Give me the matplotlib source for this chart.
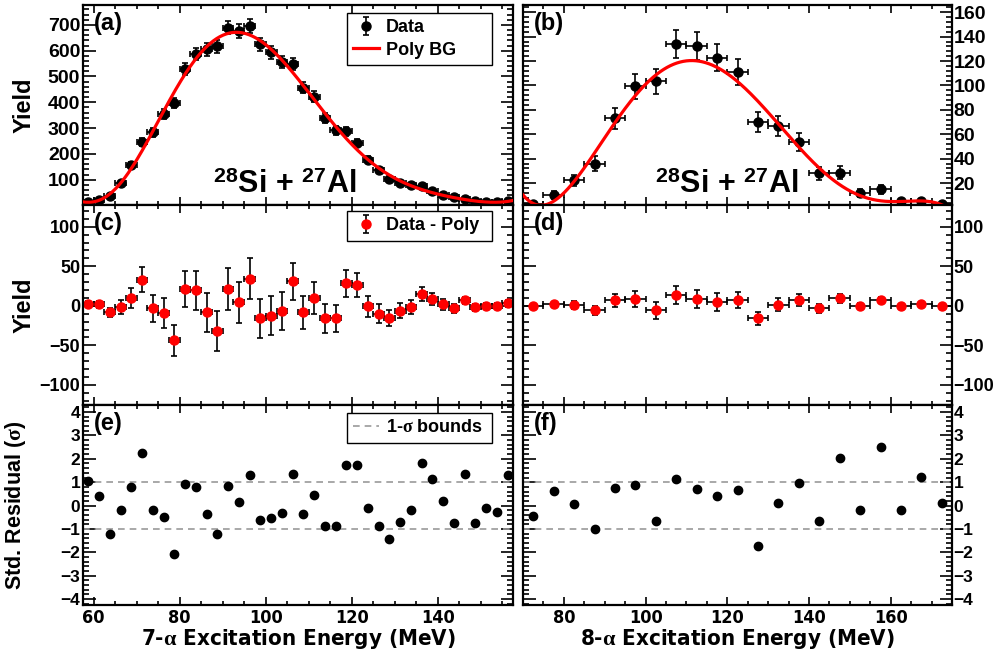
import numpy as np
import matplotlib
matplotlib.use('Agg')
import matplotlib.pyplot as plt
from matplotlib.ticker import MultipleLocator
from matplotlib.font_manager import FontProperties, fontManager
from numpy.polynomial import Polynomial

plt.rcParams['font.family'] = ['Liberation Sans', 'DejaVu Sans']
plt.rcParams['font.weight'] = 'bold'
plt.rcParams['mathtext.fontset'] = 'custom'
plt.rcParams['mathtext.rm'] = 'Liberation Serif'
plt.rcParams['mathtext.it'] = 'Liberation Serif:italic'
plt.rcParams['mathtext.bf'] = 'Liberation Sans:bold'

# a narrow bold face for the energy axes, if one is installed
narrow_files = sorted(f.fname for f in fontManager.ttflist
                      if f.weight in (700, 'bold')
                      and ('Narrow' in f.name or f.stretch == 'condensed'))
if narrow_files:
    NARROW = dict(fname=narrow_files[0])
    XLAB_SIZE, XTICK_SIZE = 16, 13
else:
    NARROW = dict(family='Liberation Sans', weight='bold')
    XLAB_SIZE, XTICK_SIZE = 15, 12.5

# 7-alpha channel (2.5 MeV bins)
e7 = [58.75, 61.25, 63.75, 66.25, 68.75, 71.25, 73.75, 76.25, 78.75, 81.25,
      83.75, 86.25, 88.75, 91.25, 93.75, 96.25, 98.75, 101.25, 103.75, 106.25,
      108.75, 111.25, 113.75, 116.25, 118.75, 121.25, 123.75, 126.25, 128.75, 131.25,
      133.75, 136.25, 138.75, 141.25, 143.75, 146.25, 148.75, 151.25, 153.75, 156.25]
yield7 = [15, 22, 36, 86, 156, 245, 284, 355, 397, 530,
          588, 605, 617, 689, 676, 695, 624, 593, 556, 549,
          456, 422, 340, 291, 288, 242, 177, 136, 101, 88,
          80, 75, 56, 41, 32, 25, 17, 13, 13, 19]
err7 = [3.9, 4.7, 6.0, 9.3, 12.5, 15.7, 16.9, 18.8, 19.9, 23.0,
        24.2, 24.6, 24.8, 26.2, 26.0, 26.4, 25.0, 24.4, 23.6, 23.4,
        21.4, 20.5, 18.4, 17.1, 17.0, 15.6, 13.3, 11.7, 10.0, 9.4,
        8.9, 8.7, 7.5, 6.4, 5.7, 5.0, 4.1, 3.6, 3.6, 4.4]
resid7 = [2.5, 1.7, -8.4, -1.7, 10, 32.8, -3.4, -9.3, -43.8, 21,
          19.4, -8.4, -32, 21, 4.2, 34.5, -16, -12.6, -6.7, 31.2,
          -8.4, 10, -15.6, -15.6, 28.6, 26.5, -0.8, -10, -15.6, -6.3,
          -1.3, 14.7, 8.4, 1.7, -3.4, 6.7, -2.1, 0, 0, 3.4]
stdres7 = [1.07, 0.39, -1.23, -0.21, 0.79, 2.23, -0.21, -0.49, -2.07, 0.92,
           0.79, -0.34, -1.23, 0.82, 0.16, 1.30, -0.63, -0.51, -0.30, 1.36,
           -0.37, 0.46, -0.86, -0.87, 1.73, 1.73, -0.10, -0.87, -1.44, -0.70,
           -0.18, 1.80, 1.12, 0.21, -0.76, 1.33, -0.73, -0.11, -0.28, 1.29]

# 8-alpha channel (5 MeV bins)
e8 = [72.5, 77.5, 82.5, 87.5, 92.5, 97.5, 102.5, 107.5, 112.5, 117.5, 122.5,
      127.5, 132.5, 137.5, 142.5, 147.5, 152.5, 157.5, 162.5, 167.5, 172.5]
yield8 = [2.5, 10.2, 22.2, 35.8, 73, 99.3, 103.4, 134.2, 132.3, 122.7, 111.2,
          70, 66.7, 53.9, 27.9, 28.5, 11.6, 14.8, 5, 5, 3]
err8 = [1.6, 3.2, 4.7, 6.0, 8.5, 10.0, 10.2, 11.6, 11.5, 11.1, 10.5,
        8.4, 8.2, 7.3, 5.3, 5.3, 3.4, 3.8, 2.2, 2.2, 1.7]
resid8 = [0, 2.1, 0.8, -5.9, 6.7, 8.4, -5.9, 13.5, 8.4, 5, 7.2,
          -16, 1.3, 7.2, -3.4, 9.3, 0, 7.6, 0, 2.1, 0]
stdres8 = [-0.44, 0.62, 0.06, -0.99, 0.76, 0.87, -0.64, 1.15, 0.73, 0.40, 0.67,
           -1.73, 0.10, 0.97, -0.64, 2.03, -0.18, 2.49, -0.18, 1.22, 0.09]

reaction = r'$^{\mathbf{28}}$Si + $^{\mathbf{27}}$Al'

W, H = 1006, 653
fig = plt.figure(figsize=(W / 100, H / 100), dpi=100)


def box(x0, y0, x1, y1):
    return [x0 / W, 1 - y1 / H, (x1 - x0) / W, (y1 - y0) / H]


cols = [(83, 513), (523, 952)]
rows = [(5, 205), (205, 405), (405, 605)]
axes = [[fig.add_axes(box(c[0], r[0], c[1], r[1])) for c in cols] for r in rows]

xlims = [(57.5, 157.5), (70, 175)]
halfbin = [1.25, 2.5]
pt = dict(ms=6.5, elinewidth=1.2, capsize=2, capthick=1.2)


def style(ax, right, ymaj, ymin, ysize):
    for s in ax.spines.values():
        s.set_linewidth(1.6)
    ax.xaxis.set_major_locator(MultipleLocator(20))
    ax.xaxis.set_minor_locator(MultipleLocator(5))
    ax.yaxis.set_major_locator(MultipleLocator(ymaj))
    ax.yaxis.set_minor_locator(MultipleLocator(ymin))
    ax.tick_params(which='both', direction='in', top=True, right=True,
                   width=1.2, labelsize=ysize)
    ax.tick_params(axis='y', which='major', length=9)
    ax.tick_params(axis='y', which='minor', length=4.5)
    ax.tick_params(axis='x', which='major', length=6)
    ax.tick_params(axis='x', which='minor', length=3)
    ax.tick_params(axis='x', labelbottom=False)
    if right:
        ax.tick_params(axis='y', labelleft=False, labelright=True, pad=1)
    else:
        ax.tick_params(axis='y', pad=2)


def legend_box(ax, handles, labels, top):
    leg = ax.legend(handles, labels, loc='upper left',
                    bbox_to_anchor=(0.614, top, 0.337, 0.0), mode='expand',
                    borderaxespad=0, fancybox=False, edgecolor='k',
                    framealpha=1, fontsize=13, handlelength=1.4,
                    handletextpad=0.4, labelspacing=0.3, borderpad=0.35)
    leg.get_frame().set_linewidth(1.0)
    return leg


# top row: yields with polynomial background
bg_lines = []
for j, (e, y, err, res) in enumerate([(e7, yield7, err7, resid7),
                                      (e8, yield8, err8, resid8)]):
    ax = axes[0][j]
    ax.errorbar(e, y, xerr=halfbin[j], yerr=err, fmt='o', color='k', zorder=3, **pt)
    target = np.array(y) - np.array(res)
    if j == 0:
        bg = Polynomial.fit(e, target, 8, w=1 / np.array(err))
    else:
        bg = Polynomial.fit(e, target, 6, w=1 / np.sqrt(err))
    xx = np.linspace(xlims[j][0], xlims[j][1], 400)
    line, = ax.plot(xx, np.clip(bg(xx), 0, None), color='red', lw=2.3, zorder=4)
    bg_lines.append(line)
    ax.set_xlim(*xlims[j])
    ax.text(0.47 if j == 0 else 0.475, 0.025, reaction, transform=ax.transAxes,
            ha='center', va='bottom', fontsize=22, fontweight='bold')

axes[0][0].set_ylim(2, 777)
axes[0][1].set_ylim(2, 166)
style(axes[0][0], False, 100, 20, 14)
style(axes[0][1], True, 20, 4, 14)

h_data = axes[0][0].errorbar([np.nan], [np.nan], yerr=[1], fmt='o', color='k', **pt)
legend_box(axes[0][0], [h_data, bg_lines[0]], ['Data', 'Poly BG'], 0.96)

# middle row: data minus background
for j, (e, res, err) in enumerate([(e7, resid7, err7), (e8, resid8, err8)]):
    ax = axes[1][j]
    ax.errorbar(e, res, xerr=halfbin[j], yerr=err, fmt='o', mfc='red', mec='red',
                ecolor='k', **pt)
    ax.set_xlim(*xlims[j])
    ax.set_ylim(-125.5, 127.5)
    style(ax, j == 1, 50, 10, 13)

h_res = axes[1][0].errorbar([np.nan], [np.nan], yerr=[1], fmt='o', mfc='red',
                            mec='red', ecolor='k', **pt)
legend_box(axes[1][0], [h_res], ['Data - Poly'], 0.97)

# bottom row: standardised residuals
for j, (e, sr) in enumerate([(e7, stdres7), (e8, stdres8)]):
    ax = axes[2][j]
    for lvl in (1, -1):
        ax.axhline(lvl, color='0.6', lw=1.2, ls=(0, (4, 3)),
                   label='1-$\\mathrm{\\sigma}$ bounds' if lvl == 1 else None)
    ax.plot(e, sr, 'o', color='k', ms=6)
    ax.set_xlim(*xlims[j])
    ax.set_ylim(-4.25, 4.3)
    style(ax, j == 1, 1, 0.2, 12.5)
    ax.tick_params(axis='x', labelbottom=True, pad=3)
    for lab in ax.get_xticklabels():
        lab.set_fontproperties(FontProperties(size=XTICK_SIZE, **NARROW))

h_sig = axes[2][0].get_lines()[0]
legend_box(axes[2][0], [h_sig], [h_sig.get_label()], 0.96)

for ax, tag in zip([axes[0][0], axes[0][1], axes[1][0], axes[1][1],
                    axes[2][0], axes[2][1]], 'abcdef'):
    ax.text(0.025, 0.965, '(%s)' % tag, transform=ax.transAxes, ha='left',
            va='top', fontsize=17, fontweight='bold')

axes[0][0].set_ylabel('Yield', fontsize=17, fontweight='bold')
axes[1][0].set_ylabel('Yield', fontsize=17, fontweight='bold')
axes[2][0].set_ylabel('Std. Residual ($\\mathrm{\\sigma}$)', fontsize=15.5,
                      fontweight='bold')
axes[0][0].yaxis.set_label_coords(-0.11, 0.5)
axes[1][0].yaxis.set_label_coords(-0.11, 0.5)
axes[2][0].yaxis.set_label_coords(-0.128, 0.5)

for ax, n in ((axes[2][0], 7), (axes[2][1], 8)):
    ax.set_xlabel('%d-$\\mathrm{\\alpha}$ Excitation Energy (MeV)' % n,
                  fontproperties=FontProperties(size=XLAB_SIZE, **NARROW),
                  labelpad=0)

fig.savefig('out.png', dpi=100)
